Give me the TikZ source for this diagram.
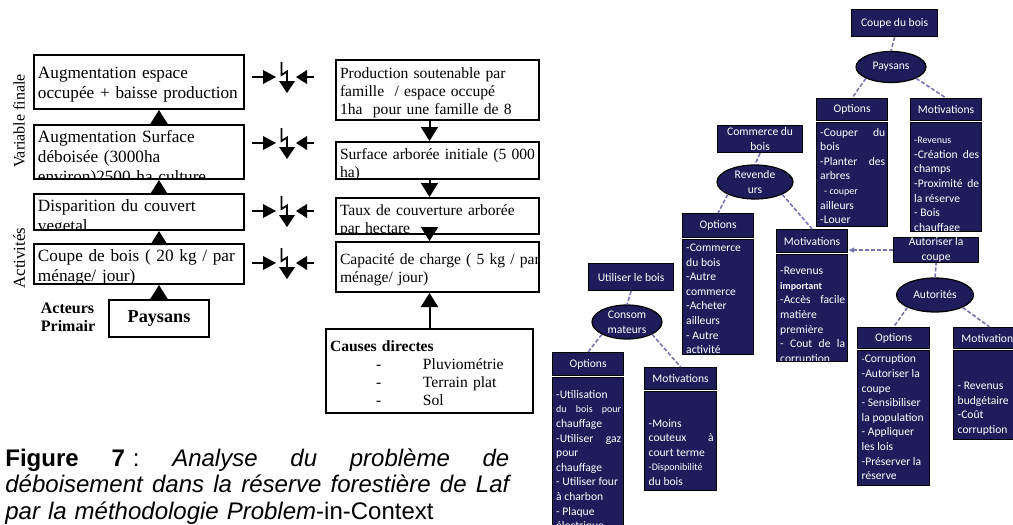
\documentclass[tikz,border=0pt]{standalone}
\usepackage{fontspec}
\setmainfont{Liberation Serif}
\newfontfamily\carlito{Carlito}
\newfontfamily\arial{Liberation Sans}
\usetikzlibrary{arrows.meta,positioning,shapes.geometric}

\definecolor{marine}{RGB}{30,28,90}
\definecolor{lilas}{RGB}{120,118,178}

\newcommand{\ltxt}{\fontsize{8.6}{10}\selectfont}
\newcommand{\rtxt}{\fontsize{7.8}{9}\selectfont}
\newcommand{\btxt}{\carlito\fontsize{5.8}{7.3}\selectfont}
\newcommand{\petit}{\fontsize{5}{7.3}\selectfont}
\hyphenpenalty=10000
\exhyphenpenalty=10000

\tikzset{
  cadre/.style={draw, line width=1pt, inner sep=0pt, anchor=north west},
  boite/.style 2 args={path picture={
      \node[anchor=north west, inner xsep=1.5pt, inner ysep=1pt, text height=7pt,
            text width=110pt, align=left, font=#1]
        at (path picture bounding box.north west) {#2};}},
  bleu/.style={draw=black, line width=0.6pt, fill=marine, text=white, font=\btxt,
               inner sep=0pt, anchor=north west, align=center},
  corps/.style 2 args={path picture={
      \node[anchor=north west, inner xsep=1.5pt, inner ysep=1pt, text height=4.5pt,
            text width=32.5pt, align=justify, text=white, font=\btxt, yshift=-#1]
        at (path picture bounding box.north west) {#2};}},
  acteur/.style={bleu, ellipse, anchor=center},
  lien/.style={draw=lilas, line width=0.8pt, dash pattern=on 2pt off 1pt},
  fl/.style={-{Triangle[width=8.5pt,length=7pt]}, line width=1pt},
  conflit/.pic={
    \draw[line width=0.9pt] (-31,0) -- (-19,0);
    \fill (-20,-7) -- (-7,0) -- (-20,7) -- cycle;
    \draw[line width=0.9pt] (-1.5,-15) -- (-1.5,-2) -- (4,-5.5) -- (4,5);
    \fill (-4,4) -- (12,4) -- (4,16) -- cycle;
    \fill (24,-7) -- (13,0) -- (24,7) -- cycle;
    \draw[line width=0.9pt] (23,0) -- (31,0);
  }
}

\begin{document}
\begin{tikzpicture}[x=0.5pt, y=-0.5pt]
  \useasboundingbox (0,0) rectangle (1013,525);
  \clip (0,0) rectangle (1013,525);

  % chaine de gauche
  \node[cadre, minimum width=105pt, minimum height=27pt,
        boite={\ltxt}{Augmentation espace\\occupée + baisse production}] (a1) at (33,54) {};
  \node[cadre, minimum width=105pt, minimum height=27pt,
        boite={\ltxt}{Augmentation Surface\\déboisée (3000ha\\environ)2500 ha culture}] (a2) at (33,124) {};
  \node[cadre, minimum width=105pt, minimum height=18pt,
        boite={\ltxt}{Disparition du couvert\\vegetal}] (a3) at (33,193) {};
  \node[cadre, minimum width=105pt, minimum height=20pt,
        boite={\ltxt}{Coupe de bois ( 20 kg / par\\ménage/ jour)}] (a4) at (33,243) {};
  \node[cadre, minimum width=50pt, minimum height=18.5pt,
        font=\fontsize{9.1}{10}\selectfont\bfseries] (pay) at (108,299) {Paysans};
  \node[font=\fontsize{8}{9}\selectfont\bfseries, align=left] (act) at (68,317) {Acteurs\\Primair};
  \node[rotate=90, font=\fontsize{8}{9}\selectfont] (varf) at (19,121) {Variable finale};
  \node[rotate=90, font=\fontsize{8.4}{9}\selectfont] (activ) at (19,258) {Activités};
  \draw[fl] (pay.north) -- (a4.south -| pay.north);
  \draw[fl] (a4.north -| pay.north) -- (a3.south -| pay.north);
  \draw[fl] (a3.north -| pay.north) -- (a2.south -| pay.north);
  \draw[fl] (a2.north -| pay.north) -- (a1.south -| pay.north);

  % conflits
  \pic at (283,77) {conflit};
  \pic at (283,143) {conflit};
  \pic at (283,211) {conflit};
  \pic at (283,263) {conflit};

  % chaine de droite
  \node[cadre, minimum width=101.5pt, minimum height=30pt,
        boite={\rtxt}{Production soutenable par\\famille~ / espace occupé\\1ha~ pour une famille de 8}] (b1) at (335,59) {};
  \node[cadre, minimum width=101.5pt, minimum height=18.5pt,
        boite={\rtxt}{Surface arborée initiale (5 000\\ha)}] (b2) at (335,141) {};
  \node[cadre, minimum width=101.5pt, minimum height=18pt,
        boite={\rtxt}{Taux de couverture arborée\\par hectare}] (b3) at (335,197) {};
  \node[cadre, minimum width=101.5pt, minimum height=25pt,
        boite={\rtxt}{Capacité de charge ( 5 kg / par\\ménage/ jour)}] (b4) at (335,241) {};
  \node[cadre, minimum width=103.5pt, minimum height=42pt,
        boite={\rtxt}{\textbf{Causes directes}\\
          \hspace*{23pt}\makebox[23.5pt][l]{-}Pluviométrie\\
          \hspace*{23pt}\makebox[23.5pt][l]{-}Terrain plat\\
          \hspace*{23pt}\makebox[23.5pt][l]{-}Sol}] (cau) at (325,328) {};
  \draw[fl] (b1.south -| cau.north) -- (b2.north -| cau.north);
  \draw[fl] (b2.south -| cau.north) -- (b3.north -| cau.north);
  \draw[fl] (b3.south -| cau.north) -- (b4.north -| cau.north);
  \draw[fl] (cau.north) -- (b4.south -| cau.north);

  % legende
  \node[anchor=north west, inner sep=0pt, text width=252pt, align=left,
        font=\arial\fontsize{12}{13.3}\selectfont] (leg) at (5,448)
    {\leavevmode\hbox to 252pt{\textbf{Figure}\hfill\textbf{7}\hspace{4pt}:\hfill\itshape Analyse\hfill
       du\hfill problème\hfill de}\\
     \leavevmode\hbox to 252pt{\itshape déboisement\hfill dans\hfill la\hfill réserve\hfill
       forestière\hfill de\hfill Laf}\\
     \textit{par la méthodologie Problem}-in-Context};

  % paysans
  \node[bleu, minimum width=43pt, minimum height=13.5pt] (coupe) at (851,9) {Coupe du bois};
  \node[acteur, minimum width=35pt, minimum height=15.5pt] (paysE) at (891,67) {Paysans};
  \node[bleu, minimum width=35.5pt, minimum height=11pt] (optPh) at (816,98) {Options};
  \node[bleu, below=0.5pt of optPh, minimum width=35.5pt, minimum height=52pt,
        corps={0pt}{-Couper du\linebreak bois\\-Planter des\linebreak arbres\\
          \hspace*{2pt}{\petit - couper}\\ailleurs\\-Louer}] (optPb) {};
  \node[bleu, minimum width=35.5pt, minimum height=11pt] (motPh) at (910,98) {Motivations};
  \node[bleu, below=0.5pt of motPh, minimum width=35.5pt, minimum height=54.5pt,
        corps={3pt}{{\petit -Revenus}\\-Création des\linebreak champs\\-Proximité de\linebreak
          la réserve\\- Bois\\chauffage}] (motPb) {};
  \draw[lien] (coupe.south) -- (paysE.north);
  \draw[lien] (paysE.south west) -- (optPh.north);
  \draw[lien] (paysE.south east) -- (motPh.north);

  % revendeurs
  \node[bleu, minimum width=42.5pt, minimum height=13.5pt] (comm) at (717,125) {Commerce du\\bois};
  \node[acteur, minimum width=38pt, minimum height=17pt] (revE) at (755,182) {Revende\\urs};
  \node[bleu, minimum width=35.5pt, minimum height=12pt] (optRh) at (682,213) {Options};
  \node[bleu, below=0.5pt of optRh, minimum width=35.5pt, minimum height=57.5pt,
        corps={0pt}{-Commerce\\du bois\\-Autre\\commerce\\-Acheter\\ailleurs\\- Autre\\activité}] (optRb) {};
  \node[bleu, minimum width=35.5pt, minimum height=11.5pt] (motRh) at (776,229) {Motivations};
  \node[bleu, below=0.5pt of motRh, minimum width=35.5pt, minimum height=53.5pt,
        corps={3pt}{-Revenus\\{\petit\bfseries important}\\-Accès facile\linebreak matière\\
          première\\- Cout de la\linebreak corruption}] (motRb) {};
  \draw[lien] (comm.south) -- (revE.north);
  \draw[lien] (revE.south west) -- (optRh.north);
  \draw[lien] (revE.south east) -- (motRh.north);

  % autorites
  \node[bleu, minimum width=42.5pt, minimum height=12.5pt] (autc) at (893,237) {Autoriser la\\coupe};
  \node[acteur, minimum width=38.5pt, minimum height=17pt] (autE) at (935,295) {Autorités};
  \node[bleu, minimum width=36pt, minimum height=10.5pt] (optAh) at (857,327) {Options};
  \node[bleu, below=0.5pt of optAh, minimum width=36pt, minimum height=67.5pt,
        corps={-1pt}{{\petit -}Corruption\\-Autoriser la\\coupe\\- Sensibiliser\\la population\\
          - Appliquer\\les lois\\-Préserver la\\réserve}] (optAb) {};
  \node[bleu, minimum width=36pt, minimum height=10.5pt] (motAh) at (953,327) {Motivations};
  \node[bleu, below=0.5pt of motAh, minimum width=36pt, minimum height=44.5pt,
        corps={6pt}{- Revenus\\budgétaire\\-Coût\\corruption}] (motAb) {};
  \draw[lien] (autE.north) -- (autc.south);
  \draw[lien, -{Latex[length=3pt,width=3pt]}] (autc.west) -- (autc.west -| motRh.east);
  \draw[lien] (autE.south west) -- (optAh.north);
  \draw[lien] (autE.south east) -- (motAh.north);

  % consommateurs
  \node[bleu, minimum width=42.5pt, minimum height=13.5pt] (util) at (588,263) {Utiliser le bois};
  \node[acteur, minimum width=35pt, minimum height=17pt] (consE) at (627,322) {Consom\\mateurs};
  \node[bleu, minimum width=35.5pt, minimum height=11.5pt] (optCh) at (552,352) {Options};
  \node[bleu, below=0.5pt of optCh, minimum width=35.5pt, minimum height=77pt,
        corps={2.5pt}{-Utilisation\\{\petit du bois pour}\linebreak chauffage\\-Utiliser gaz\linebreak
          pour\\chauffage\\- Utiliser four\\à charbon\\- Plaque\\électrique}] (optCb) {};
  \node[bleu, minimum width=36pt, minimum height=11pt] (motCh) at (644,367) {Motivations};
  \node[bleu, below=0.5pt of motCh, minimum width=36pt, minimum height=49.5pt,
        corps={5pt}{-Moins\\couteux à\linebreak court terme\\{\petit -Disponibilité}\\du bois}] (motCb) {};
  \draw[lien] (util.south) -- (consE.north);
  \draw[lien] (consE.south west) -- (optCh.north);
  \draw[lien] (consE.south east) -- (motCh.north);
\end{tikzpicture}
\end{document}
